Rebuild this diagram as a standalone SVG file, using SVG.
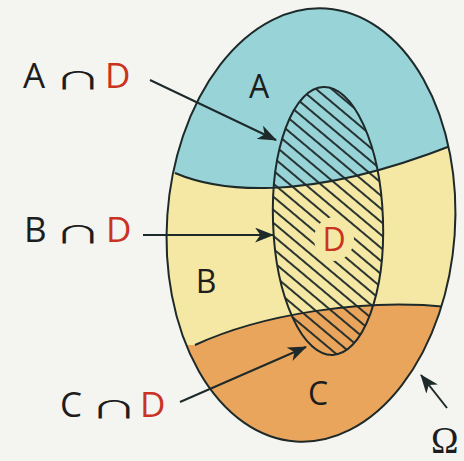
<svg xmlns="http://www.w3.org/2000/svg" width="464" height="461" viewBox="0 0 464 461">
<style>
.lbl{font-family:"Open Sans","DejaVu Sans",sans-serif;font-size:35px;fill:#1d1d1d}
.cap{font-family:"Noto Sans CJK JP","Noto Sans CJK SC","DejaVu Sans",sans-serif;font-size:32px;fill:#1d1d1d}
.in{font-family:"Open Sans","DejaVu Sans",sans-serif;font-size:32px;fill:#1d1d1d}
.om{font-family:"Liberation Serif","DejaVu Serif",serif;font-size:37px;fill:#1d1d1d}
.red{fill:#c9331f}
.edge{fill:none;stroke:#1e2a2a;stroke-width:2}
.arrow{fill:none;stroke:#1e2a2a;stroke-width:2;marker-end:url(#ah)}
</style>
<defs>
<marker id="ah" viewBox="0 0 18 14" refX="17" refY="7" markerWidth="19" markerHeight="15" markerUnits="userSpaceOnUse" orient="auto">
<path d="M0,0 L18,7 L0,14 L5,7 Z" fill="#1e2a2a"/>
</marker>
<clipPath id="omegaClip"><ellipse cx="311" cy="225" rx="144" ry="217" transform="rotate(4 311 225)"/></clipPath>
<clipPath id="dClip"><ellipse cx="328" cy="221" rx="55" ry="134" transform="rotate(-2 328 221)"/></clipPath>
<pattern id="hatch" patternUnits="userSpaceOnUse" width="10" height="10" patternTransform="rotate(40)">
<path d="M0,5 H10" stroke="#1e2a2a" stroke-width="1.9"/>
</pattern>
<mask id="dGap">
<rect x="0" y="0" width="464" height="461" fill="#fff"/>
<ellipse cx="334" cy="239" rx="20" ry="22" fill="#000"/>
</mask>
</defs>
<rect width="464" height="461" fill="#f4f4f1"/>
<g id="omega">
<g clip-path="url(#omegaClip)">
<rect x="150" y="0" width="320" height="461" fill="#f5e8a4"/>
<path d="M100,173 L175,173 C215,190 300,205 453,145 L470,145 L470,0 L100,0 Z" fill="#97d3d7"/>
<path d="M100,345 L195,345 C260,315 360,298 448,307 L470,307 L470,461 L100,461 Z" fill="#eaa55c"/>
<path class="edge" d="M175,173 C215,190 300,205 453,145"/>
<path class="edge" d="M195,345 C260,315 360,298 448,307"/>
</g>
<ellipse class="edge" cx="311" cy="225" rx="144" ry="217" transform="rotate(4 311 225)"/>
</g>
<g id="D">
<rect x="260" y="80" width="140" height="290" fill="url(#hatch)" clip-path="url(#dClip)" mask="url(#dGap)"/>
<ellipse class="edge" cx="328" cy="221" rx="55" ry="134" transform="rotate(-2 328 221)"/>
<text class="in red" x="334" y="251" text-anchor="middle">D</text>
</g>
<g id="A"><text class="in" x="259" y="98" text-anchor="middle">A</text></g>
<g id="B"><text class="in" x="206" y="293" text-anchor="middle">B</text></g>
<g id="C"><text class="in" x="318" y="405" text-anchor="middle">C</text></g>
<g id="omegaLabel"><text class="om" x="431" y="453">Ω</text></g>
<g id="AnD">
<text class="lbl" x="23" y="88">A</text>
<text class="cap" transform="translate(54,89) scale(1.5,0.74)">∩</text>
<text class="lbl red" x="105" y="88">D</text>
</g>
<g id="BnD">
<text class="lbl" x="24" y="242">B</text>
<text class="cap" transform="translate(54,243) scale(1.5,0.74)">∩</text>
<text class="lbl red" x="106" y="242">D</text>
</g>
<g id="CnD">
<text class="lbl" x="60" y="417">C</text>
<text class="cap" transform="translate(90,418) scale(1.5,0.74)">∩</text>
<text class="lbl red" x="140" y="417">D</text>
</g>
<g id="connectors">
<path class="arrow" d="M150,80 L276,140"/>
<path class="arrow" d="M143,235 L273,235"/>
<path class="arrow" d="M180,402 L306,347"/>
<path class="arrow" d="M447,408 L421,375"/>
</g>
</svg>
